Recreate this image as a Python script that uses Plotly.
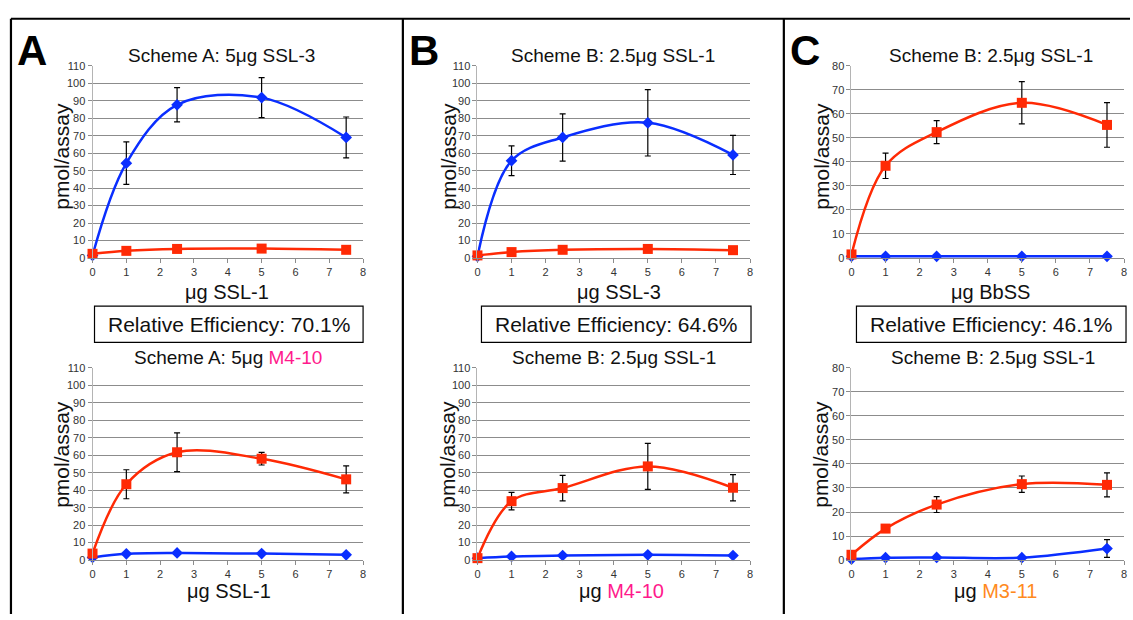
import plotly.graph_objects as go

W, H = 1133, 620
FONT = "Liberation Sans, Arial, Helvetica, sans-serif"

# ---------------- data ----------------
x_ug = [0, 1, 2.5, 5, 7.5]
x_ticks = [0, 1, 2, 3, 4, 5, 6, 7, 8]

a_top_blue = [1.5, 54.3, 87.7, 91.8, 69.0]
a_top_blue_err = [None, 12.2, 9.8, 11.5, 11.7]
a_top_red = [2.4, 4.1, 5.2, 5.4, 4.7]

a_bot_red = [3.7, 43.4, 61.7, 58.0, 46.2]
a_bot_red_err = [None, 8.3, 11.1, 3.6, 7.7]
a_bot_blue = [1.5, 3.6, 4.1, 3.7, 3.0]

b_top_blue = [1.0, 55.7, 69.0, 77.4, 59.0]
b_top_blue_err = [None, 8.5, 13.5, 19.0, 11.2]
b_top_red = [1.5, 3.4, 4.7, 5.2, 4.5]

b_bot_red = [1.1, 33.7, 41.2, 53.6, 41.4]
b_bot_red_err = [None, 5.0, 7.3, 13.2, 7.5]
b_bot_blue = [1.1, 2.1, 2.6, 3.0, 2.6]

c_top_red = [1.5, 38.4, 52.4, 64.6, 55.4]
c_top_red_err = [None, 5.3, 4.8, 8.8, 9.3]
c_top_blue = [0.7, 0.7, 0.7, 0.7, 0.7]

c_bot_red = [2.2, 13.1, 23.1, 31.6, 31.3]
c_bot_red_err = [None, None, 3.3, 3.4, 5.0]
c_bot_blue = [0.4, 1.0, 1.1, 1.0, 4.8]
c_bot_blue_err = [None, None, None, None, 3.7]

panel_letters = ["A", "B", "C"]
efficiencies = ["Relative Efficiency: 70.1%", "Relative Efficiency: 64.6%", "Relative Efficiency: 46.1%"]
top_titles = ["Scheme A: 5μg SSL-3", "Scheme B: 2.5μg SSL-1", "Scheme B: 2.5μg SSL-1"]
bot_titles = ["Scheme A: 5μg <span style='color:#FF1A8C'>M4-10</span>",
              "Scheme B: 2.5μg SSL-1", "Scheme B: 2.5μg SSL-1"]
top_xtitles = ["μg SSL-1", "μg SSL-3", "μg BbSS"]
bot_xtitles = ["μg SSL-1", "μg <span style='color:#FF1A8C'>M4-10</span>",
               "μg <span style='color:#FF8A1E'>M3-11</span>"]
y_title = "pmol/assay"

BLUE = "#0A2EFF"
RED = "#FF2A05"

# ---------------- layout helpers ----------------
def px_x(p):
    return p / W

def px_y(p):
    return 1 - p / H

col_x = [(90, 362), (477, 751), (853, 1127)]
row_y = [(61, 257), (369, 565)]
ymax = [110, 110, 80]

panels = [
    (0, 0, [(a_top_blue, a_top_blue_err, BLUE, "d"), (a_top_red, None, RED, "s")]),
    (0, 1, [(a_bot_blue, None, BLUE, "d"), (a_bot_red, a_bot_red_err, RED, "s")]),
    (1, 0, [(b_top_blue, b_top_blue_err, BLUE, "d"), (b_top_red, None, RED, "s")]),
    (1, 1, [(b_bot_blue, None, BLUE, "d"), (b_bot_red, b_bot_red_err, RED, "s")]),
    (2, 0, [(c_top_blue, None, BLUE, "d"), (c_top_red, c_top_red_err, RED, "s")]),
    (2, 1, [(c_bot_blue, c_bot_blue_err, BLUE, "d"), (c_bot_red, c_bot_red_err, RED, "s")]),
]

fig = go.Figure()
layout = dict(
    width=W, height=H, margin=dict(l=0, r=0, t=0, b=0),
    paper_bgcolor="white", plot_bgcolor="white", showlegend=False,
    font=dict(family=FONT, color="#222"),
)

GRID = "#8c8c8c"
for i, (c, r, series) in enumerate(panels):
    n = i + 1
    xa = "xaxis" if n == 1 else f"xaxis{n}"
    ya = "yaxis" if n == 1 else f"yaxis{n}"
    xr = "x" if n == 1 else f"x{n}"
    yr = "y" if n == 1 else f"y{n}"
    x0, x1 = col_x[c]
    y0, y1 = row_y[r]
    layout[xa] = dict(
        domain=[px_x(x0), px_x(x1)], anchor=yr, range=[0, 8],
        tickmode="array", tickvals=x_ticks, ticktext=[str(t) for t in x_ticks],
        showgrid=False, zeroline=False, showline=True, linecolor=GRID, linewidth=1,
        ticks="outside", ticklen=4, tickcolor=GRID, tickwidth=1,
        tickfont=dict(size=11, color="#333", family=FONT), fixedrange=True,
    )
    layout[ya] = dict(
        domain=[px_y(y1), px_y(y0)], anchor=xr, range=[0, ymax[c]], dtick=10,
        showgrid=True, gridcolor=GRID, gridwidth=1, zeroline=False,
        showline=True, linecolor="#b4b4b4", linewidth=1,
        ticks="outside", ticklen=4, tickcolor=GRID, tickwidth=1,
        tickfont=dict(size=11, color="#333", family=FONT), fixedrange=True,
    )
    for yv, err, col, kind in series:
        tr = dict(
            x=x_ug, y=yv, xaxis=xr, yaxis=yr, mode="lines+markers",
            line=dict(color=col, width=2.5, shape="spline", smoothing=1.0),
            marker=dict(symbol="diamond" if kind == "d" else "square",
                        size=9 if kind == "d" else 10, color=col,
                        line=dict(width=0)),
            cliponaxis=False, hoverinfo="skip",
        )
        if err is not None:
            tr["error_y"] = dict(type="data", array=err, visible=True,
                                 color="black", thickness=1.2, width=3)
        fig.add_trace(go.Scatter(**tr))

annotations = []
shapes = []

letter_x = [29, 423, 806]
top_title_cx = [220, 613, 993]
bot_title_cx = [226, 614, 995]
top_xtitle_cx = [225, 619, 993]
bot_xtitle_cx = [227, 622, 998]
ytitle_x = [58, 447, 822]
eff_box = [(92, 362), (481, 752), (858, 1129)]

def add_text(text, x, y, size, angle=0, color="#111"):
    annotations.append(dict(text=text, x=px_x(x), y=px_y(y), xref="paper", yref="paper",
                            showarrow=False, textangle=angle,
                            font=dict(size=size, color=color, family=FONT),
                            xanchor="center", yanchor="middle"))

for c in range(3):
    add_text("<b>" + panel_letters[c] + "</b>", letter_x[c], 45, 42, color="black")
    add_text(top_titles[c], top_title_cx[c], 50, 19)
    add_text(bot_titles[c], bot_title_cx[c], 358, 19)
    add_text(top_xtitles[c], top_xtitle_cx[c], 292, 20)
    add_text(bot_xtitles[c], bot_xtitle_cx[c], 597, 20)
    for yc in (153, 457):
        add_text(y_title, ytitle_x[c], yc, 21, angle=-90)
    bx0, bx1 = eff_box[c]
    shapes.append(dict(type="rect", xref="paper", yref="paper",
                       x0=px_x(bx0), x1=px_x(bx1), y0=px_y(343), y1=px_y(306),
                       line=dict(color="black", width=1.2), fillcolor="white", layer="below"))
    add_text(efficiencies[c], (bx0 + bx1) / 2, 325, 21)

# outer frame lines
frame_lines = [
    (8, 13, 1133, 13),
    (8, 13, 8, 620),
    (402, 13, 402, 620),
    (785, 13, 785, 620),
]
for (ax0, ay0, ax1, ay1) in frame_lines:
    shapes.append(dict(type="line", xref="paper", yref="paper",
                       x0=px_x(ax0), y0=px_y(ay0), x1=px_x(ax1), y1=px_y(ay1),
                       line=dict(color="black", width=2.2)))

layout["annotations"] = annotations
layout["shapes"] = shapes
fig.update_layout(**layout)
fig.write_html("out.html")
